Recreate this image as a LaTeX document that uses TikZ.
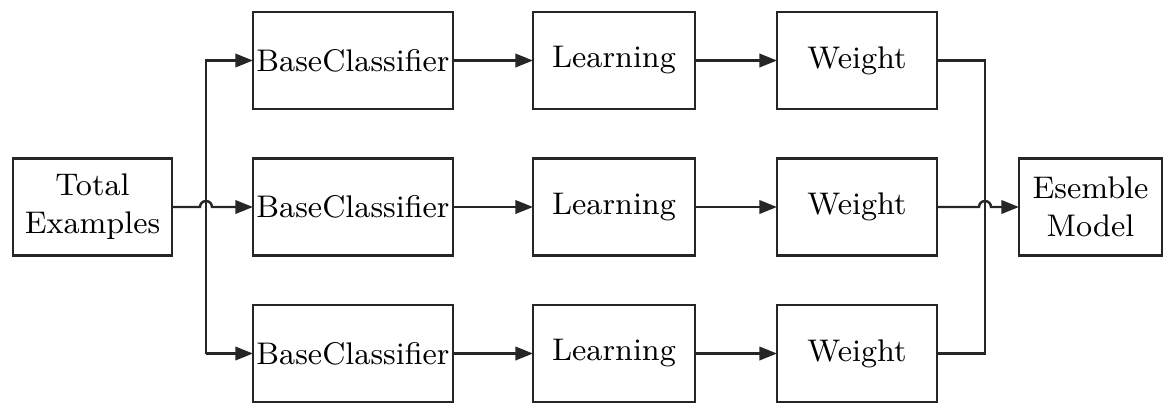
\documentclass[tikz,border=0pt]{standalone}
\usetikzlibrary{arrows.meta, calc}
\tikzstyle{box} = [draw=black!85, outer sep=0, inner sep=1pt,
    minimum height=0.97cm, line width=0.8pt,
    fill=white, font=\fontsize{8.9}{10.8}\selectfont, align=center]
\tikzstyle{link} = [draw=black!85, line width=0.7pt]
\tikzstyle{arr} = [link, -{Triangle[length=5pt,width=3.8pt]}]

\begin{document}
\begin{tikzpicture}
\useasboundingbox (0,0) rectangle (11.71,4.03);

%%% input and output
\node[box, minimum width=1.59cm] (total) at (0.925,1.96) {Total\\Examples};
\node[box, minimum width=1.43cm] (model) at (10.905,1.96) {Esemble\\Model};

%%% base classifiers
\node[box, minimum width=1.96cm] (bc1) at (3.53,3.425) {BaseClassifier};
\node[box, minimum width=1.96cm] (bc2) at (3.53,1.96) {BaseClassifier};
\node[box, minimum width=1.96cm] (bc3) at (3.53,0.495) {BaseClassifier};

\node[box, minimum width=1.62cm] (lr1) at (6.14,3.425) {Learning};
\node[box, minimum width=1.62cm] (lr2) at (6.14,1.96) {Learning};
\node[box, minimum width=1.62cm] (lr3) at (6.14,0.495) {Learning};

\node[box, minimum width=1.60cm] (wt1) at (8.57,3.425) {Weight};
\node[box, minimum width=1.60cm] (wt2) at (8.57,1.96) {Weight};
\node[box, minimum width=1.60cm] (wt3) at (8.57,0.495) {Weight};

%%% branch lines
\coordinate (jl) at (2.06,1.96);
\coordinate (jr) at (9.85,1.96);

\draw[arr] (jl |- bc3.west) -- (jl |- bc1.west) -- (bc1.west);
\draw[arr] (jl |- bc3.west) -- (bc3.west);
\draw[arr] (total.east) -- ([xshift=-0.06cm]jl |- total.east)
    arc[start angle=180, end angle=0, radius=0.06cm] -- (bc2.west);

\draw[arr] (bc1.east) -- (lr1.west);
\draw[arr] (bc2.east) -- (lr2.west);
\draw[arr] (bc3.east) -- (lr3.west);
\draw[arr] (lr1.east) -- (wt1.west);
\draw[arr] (lr2.east) -- (wt2.west);
\draw[arr] (lr3.east) -- (wt3.west);

\draw[link] (wt1.east) -- (jr |- wt1.east) -- (jr |- wt3.east) -- (wt3.east);
\draw[arr] (wt2.east) -- ([xshift=-0.06cm]jr |- wt2.east)
    arc[start angle=180, end angle=0, radius=0.06cm] -- (model.west);

\end{tikzpicture}
\end{document}
